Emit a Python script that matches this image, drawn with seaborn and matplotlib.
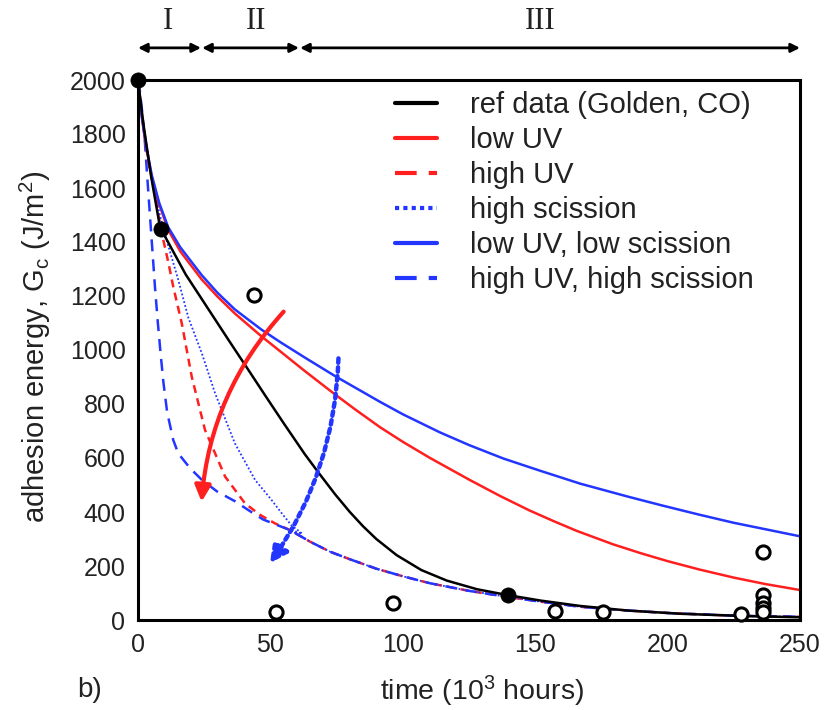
import matplotlib
matplotlib.use("Agg")
import matplotlib.pyplot as plt
import seaborn as sns
import numpy as np
import pandas as pd
from matplotlib.lines import Line2D

# ---------------- data (time in 10^3 hours, Gc in J/m^2) ----------------
ref_t = [0, 2, 5, 8.3, 13, 18, 24, 29, 35, 41.7, 48, 55, 63, 68, 74.4, 80, 85, 90,
         97.7, 107, 116.6, 128, 139.2, 152, 167, 185, 205, 228, 250]
ref_g = [2000, 1840, 1640, 1455, 1370, 1280, 1190, 1115, 1025, 926, 832, 729, 614,
         548, 466, 400, 347, 300, 240, 185, 146, 114, 93, 72, 52, 35, 23, 15, 10]

lowuv_t = [0, 1.4, 3, 5.2, 8, 11.4, 16, 24, 30, 36.6, 46.7, 53.6, 63, 73.8, 82, 91.4,
           100, 110.3, 125.4, 137, 148, 157, 165.7, 179.5, 190, 200, 212, 225, 237, 250]
lowuv_g = [2000, 1865, 1755, 1640, 1540, 1445, 1365, 1262, 1198, 1135, 1050, 996, 922,
           840, 780, 714, 660, 600, 518, 458, 405, 366, 330, 280, 247, 218, 187, 157, 133, 111]

highuv_t = [0, 2, 4, 6.4, 7.7, 9.5, 11.4, 13.3, 16.5, 20.3, 25.3, 32.9, 40.4, 46, 51.7]
highuv_g = [2000, 1830, 1690, 1586, 1500, 1410, 1327, 1235, 1100, 901, 704, 531, 432, 390, 358]

highsc_t = [0, 2, 5, 8, 10.2, 12.5, 15.2, 19, 24.1, 29.1, 36.6, 44.2, 50, 54.3, 58, 62]
highsc_g = [2000, 1840, 1650, 1510, 1426, 1350, 1260, 1120, 988, 840, 654, 519, 450, 395, 350, 320]

lowboth_t = [0, 1.4, 3, 5.2, 8, 11.4, 16, 24, 30, 36.6, 46.7, 53.6, 63, 75, 91.4, 100,
             114, 125, 138, 151.8, 167, 185, 198, 212, 225, 238, 250]
lowboth_g = [2000, 1870, 1760, 1648, 1545, 1455, 1380, 1278, 1212, 1150, 1075, 1030, 972,
             900, 808, 762, 695, 648, 598, 553, 505, 457, 424, 390, 360, 334, 310]

highboth_t = [0, 0.75, 1.7, 2.6, 3.5, 4.5, 5.5, 6.4, 7.5, 8.6, 9.6, 11, 13.3, 15.2, 19.6,
              24.1, 30, 36.6, 42, 47.3]
highboth_g = [2000, 1957, 1870, 1771, 1640, 1500, 1360, 1234, 1100, 980, 880, 770, 667, 617,
              563, 519, 475, 440, 405, 372]

# common tail of the high-UV / high-scission curves
tail_t = [57.4, 65, 72.5, 80, 90, 100, 110.3, 125, 139.2, 152, 167, 185, 200, 220, 235, 250]
tail_g = [333, 290, 253, 225, 190, 162, 136, 108, 86, 68, 49, 35, 26, 18, 14, 12]

# measured points
open_t = [43.8, 52.1, 96.3, 157.5, 175.6, 227.7, 235.9, 235.9, 235.9, 235.9, 235.9]
open_g = [1204, 30, 63, 33, 30, 22, 251, 93, 62, 45, 30]
filled_t = [0, 8.5, 139.8]
filled_g = [2000, 1450, 93]

legend_labels = ["ref data (Golden, CO)", "low UV", "high UV", "high scission",
                 "low UV, low scission", "high UV, high scission"]
regions = ["I", "II", "III"]
region_edges = [0, 23.8, 60.8, 250]
region_label_x = [11.3, 44.6, 151.8]

RED = "#ff1f1f"
BLUE = "#2236ff"

# ---------------- style ----------------
sns.set_theme(style="white")
plt.rcParams["font.family"] = ["Liberation Sans", "DejaVu Sans"]
plt.rcParams["mathtext.fontset"] = "custom"
plt.rcParams["mathtext.rm"] = "Liberation Sans"
plt.rcParams["mathtext.it"] = "Liberation Sans:italic"

fig = plt.figure(figsize=(8.32, 7.10), dpi=100)
ax = fig.add_axes([138 / 832, 1 - 620 / 710, 662 / 832, 540 / 710])

def curve(t, g, **kw):
    sns.lineplot(x=t, y=g, ax=ax, estimator=None, sort=False, **kw)

lw = 1.8
curve(highuv_t + tail_t, highuv_g + tail_g, color=RED, lw=lw, linestyle=(0, (3.2, 2.2)))
curve(highsc_t + tail_t, highsc_g + tail_g, color=BLUE, lw=1.3, linestyle=(0, (1, 1.2)))
curve(highboth_t + tail_t, highboth_g + tail_g, color=BLUE, lw=lw, linestyle=(0, (4.8, 3.2)))
curve(lowuv_t, lowuv_g, color=RED, lw=lw)
curve(lowboth_t, lowboth_g, color=BLUE, lw=lw)
curve(ref_t, ref_g, color="black", lw=lw)

sns.scatterplot(x=open_t, y=open_g, ax=ax, s=90, facecolor="white", edgecolor="black",
                linewidth=2.2, zorder=5, clip_on=False)
sns.scatterplot(x=filled_t, y=filled_g, ax=ax, s=120, color="black", edgecolor="black",
                linewidth=0.5, zorder=6, clip_on=False)

# curved arrows
ax.annotate("", xy=(24, 438), xytext=(55, 1142),
            arrowprops=dict(arrowstyle="-|>", color=RED, lw=3.0, mutation_scale=24,
                            connectionstyle="arc3,rad=0.17", shrinkA=0, shrinkB=0))
ax.annotate("", xy=(49.8, 210), xytext=(75.7, 969),
            arrowprops=dict(arrowstyle="-|>", color=BLUE, lw=3.2, mutation_scale=26,
                            linestyle=(0, (1, 1)),
                            connectionstyle="arc3,rad=-0.15", shrinkA=0, shrinkB=0))

ax.set_xlim(0, 250)
ax.set_ylim(0, 2000)
ax.set_xticks([0, 50, 100, 150, 200, 250])
ax.set_yticks(range(0, 2001, 200))
ax.tick_params(length=0, labelsize=18, pad=9, colors="#222222")
for s in ax.spines.values():
    s.set_color("black")
    s.set_linewidth(2.2)

ax.set_xlabel("time (10$^{3}$ hours)", fontsize=20.5, color="#222222")
ax.set_ylabel("adhesion energy, G$_{\\mathrm{c}}$ (J/m$^{2}$)", fontsize=21, color="#222222")
ax.xaxis.set_label_coords(0.52, -0.10)
ax.yaxis.set_label_coords(-0.128, 0.506)

fig.text(77 / 832, 1 - 690 / 710, "b)", fontsize=20, va="center", ha="left", color="#222222")

# legend
handles = [
    Line2D([], [], color="black", lw=3.0),
    Line2D([], [], color=RED, lw=3.0),
    Line2D([], [], color=RED, lw=3.0, linestyle=(0, (5.2, 2.9))),
    Line2D([], [], color=BLUE, lw=3.0, linestyle=(0, (1, 1))),
    Line2D([], [], color=BLUE, lw=3.0),
    Line2D([], [], color=BLUE, lw=3.0, linestyle=(0, (5.2, 2.9))),
]
leg = ax.legend(handles, legend_labels, loc="upper left", bbox_to_anchor=(0.388, 0.98),
                frameon=False, fontsize=21, handlelength=1.45, handletextpad=1.12,
                labelspacing=0.24, borderpad=0, borderaxespad=0)
for t in leg.get_texts():
    t.set_color("#222222")

# region arrows on top
yarr = 2119
for i in range(3):
    a, b = region_edges[i], region_edges[i + 1]
    ax.annotate("", xy=(b, yarr), xytext=(a + (0.4 if i else 0), yarr), annotation_clip=False,
                arrowprops=dict(arrowstyle="<|-|>", color="black", lw=2.0, mutation_scale=13,
                                shrinkA=0, shrinkB=0))
    ax.text(region_label_x[i], 2215, regions[i], ha="center", va="center", fontsize=22,
            family=["Liberation Serif", "DejaVu Serif"], color="#222222", clip_on=False)

fig.savefig("out.png", dpi=100)
